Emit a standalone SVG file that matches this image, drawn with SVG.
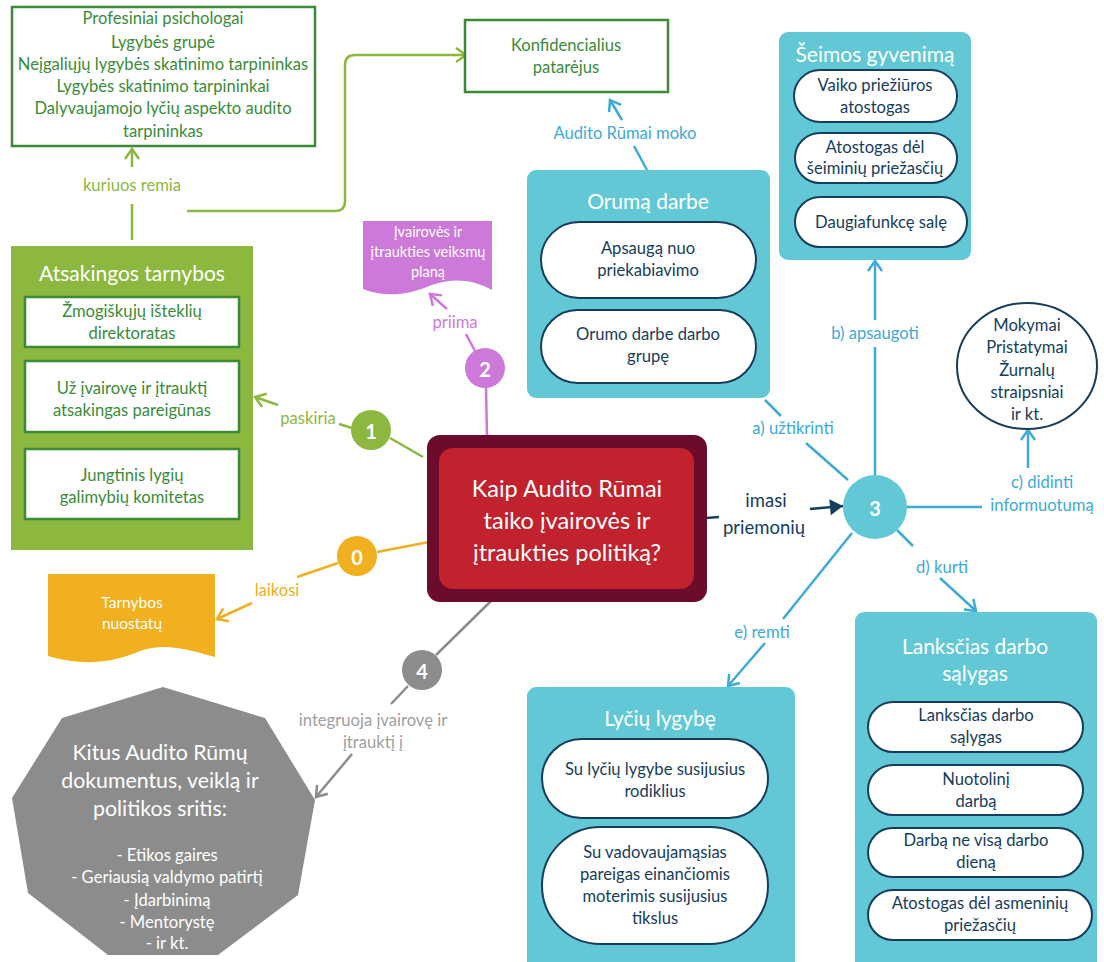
<svg xmlns="http://www.w3.org/2000/svg" width="1104" height="962" viewBox="0 0 1104 962">
<defs>
<style>
text{font-family:Lato,"Open Sans","Liberation Sans",sans-serif;text-anchor:middle;dominant-baseline:central}
.t15{font-size:16.6px}
.ttl{font-size:21px;fill:#fff}
.gtx{fill:#3a8c38;font-size:16.6px}
.ntx{fill:#173d5c;font-size:16.6px}
.wtx{fill:#fff}
.gbox{fill:#fff;stroke:#3a8a37;stroke-width:2.5}
.teal{fill:#63c8d5}
.pill{fill:#fff;stroke:#173d5c;stroke-width:2}
.c{fill:none;stroke-width:2.5}
.lg{stroke:#8db840}.or{stroke:#f0b020}.pk{stroke:#cc79d9}.gy{stroke:#8c8c8c}.bl{stroke:#3eaad9}.nv{stroke:#173d5c}
.num{font-size:20px;font-weight:bold;fill:#fff}
</style>
<marker id="mG" markerWidth="20" markerHeight="20" refX="0" refY="0" viewBox="-12 -10 14 20" orient="auto" markerUnits="userSpaceOnUse"><path d="M-10,-7 L0,0 L-10,7" fill="none" stroke="#8db840" stroke-width="2.5"/></marker>
<marker id="mO" markerWidth="20" markerHeight="20" refX="0" refY="0" viewBox="-12 -10 14 20" orient="auto" markerUnits="userSpaceOnUse"><path d="M-10,-7 L0,0 L-10,7" fill="none" stroke="#f0b020" stroke-width="2.5"/></marker>
<marker id="mP" markerWidth="20" markerHeight="20" refX="0" refY="0" viewBox="-12 -10 14 20" orient="auto" markerUnits="userSpaceOnUse"><path d="M-10,-7 L0,0 L-10,7" fill="none" stroke="#cc79d9" stroke-width="2.5"/></marker>
<marker id="mY" markerWidth="20" markerHeight="20" refX="0" refY="0" viewBox="-12 -10 14 20" orient="auto" markerUnits="userSpaceOnUse"><path d="M-10,-7 L0,0 L-10,7" fill="none" stroke="#8c8c8c" stroke-width="2.5"/></marker>
<marker id="mB" markerWidth="20" markerHeight="20" refX="0" refY="0" viewBox="-12 -10 14 20" orient="auto" markerUnits="userSpaceOnUse"><path d="M-10,-7 L0,0 L-10,7" fill="none" stroke="#3eaad9" stroke-width="2.5"/></marker>
<marker id="mN" markerWidth="20" markerHeight="20" refX="0" refY="0" viewBox="-14 -10 16 20" orient="auto" markerUnits="userSpaceOnUse"><path d="M-13,-8 L0,0 L-13,8 Z" fill="#173d5c"/></marker>
</defs>
<rect width="1104" height="962" fill="#fff"/>

<g id="connectors">
<line class="c lg" x1="132" y1="240" x2="132" y2="204"/>
<line class="c lg" x1="132" y1="167" x2="132" y2="149" marker-end="url(#mG)"/>
<path class="c lg" d="M187,211 H335 Q345,211 345,201 V65 Q345,55 355,55 H466" marker-end="url(#mG)"/>
<line class="c lg" x1="423" y1="457" x2="390" y2="438"/>
<line class="c lg" x1="352" y1="428" x2="339" y2="424"/>
<line class="c lg" x1="278" y1="405" x2="255" y2="397" marker-end="url(#mG)"/>
<line class="c or" x1="429" y1="542" x2="377" y2="552"/>
<line class="c or" x1="338" y1="563" x2="297" y2="577"/>
<line class="c or" x1="252" y1="603" x2="217" y2="619" marker-end="url(#mO)"/>
<line class="c pk" x1="487" y1="437" x2="486" y2="388"/>
<line class="c pk" x1="475" y1="351" x2="466" y2="334"/>
<line class="c pk" x1="447" y1="309" x2="430" y2="294" marker-end="url(#mP)"/>
<line class="c gy" x1="491" y1="601" x2="436" y2="655"/>
<line class="c gy" x1="408" y1="686" x2="391" y2="704"/>
<line class="c gy" x1="352" y1="754" x2="316" y2="797" marker-end="url(#mY)"/>
<line class="c bl" x1="647" y1="170" x2="634" y2="146"/>
<line class="c bl" x1="622" y1="120" x2="610" y2="100" marker-end="url(#mB)"/>
<line class="c bl" x1="848" y1="480" x2="806" y2="443"/>
<line class="c bl" x1="781" y1="416" x2="765" y2="400"/>
<line class="c bl" x1="875" y1="475" x2="875" y2="347"/>
<line class="c bl" x1="875" y1="320" x2="875" y2="261" marker-end="url(#mB)"/>
<line class="c bl" x1="907" y1="507" x2="982" y2="507"/>
<line class="c bl" x1="1028" y1="468" x2="1028" y2="430" marker-end="url(#mB)"/>
<line class="c bl" x1="897" y1="530" x2="913" y2="546"/>
<line class="c bl" x1="940" y1="578" x2="976" y2="611" marker-end="url(#mB)"/>
<line class="c bl" x1="852" y1="533" x2="783" y2="619"/>
<line class="c bl" x1="765" y1="643" x2="728" y2="686" marker-end="url(#mB)"/>
<line class="c nv" x1="706" y1="518" x2="719" y2="517"/>
<line class="c nv" x1="810" y1="509" x2="843" y2="506" marker-end="url(#mN)"/>
<text x="132" y="185" class="t15" fill="#8db840">kuriuos remia</text>
<text x="308" y="418" class="t15" fill="#8db840">paskiria</text>
<text x="277" y="590" class="t15" fill="#f0b020">laikosi</text>
<text x="455" y="322" class="t15" fill="#cc79d9">priima</text>
<text x="373" y="720" class="t15" fill="#a0a0a0">integruoja įvairovę ir</text>
<text x="373" y="742" class="t15" fill="#a0a0a0">įtrauktį į</text>
<text x="625" y="133" class="t15" fill="#3eaad9">Audito Rūmai moko</text>
<text x="793" y="428" class="t15" fill="#3eaad9">a) užtikrinti</text>
<text x="875" y="333" class="t15" fill="#3eaad9">b) apsaugoti</text>
<text x="1042" y="482" class="t15" fill="#3eaad9">c) didinti</text>
<text x="1042" y="505" class="t15" fill="#3eaad9">informuotumą</text>
<text x="942" y="567" class="t15" fill="#3eaad9">d) kurti</text>
<text x="762" y="632" class="t15" fill="#3eaad9">e) remti</text>
<text x="766" y="500" style="font-size:18.5px" fill="#173d5c">imasi</text>
<text x="764" y="527" style="font-size:18.5px" fill="#173d5c">priemonių</text>
</g>

<g id="supporters">
<rect x="12" y="7" width="303" height="139" class="gbox"/>
<text x="163" y="18" class="gtx">Profesiniai psichologai</text>
<text x="163" y="42" class="gtx">Lygybės grupė</text>
<text x="163" y="64" class="gtx">Neįgaliųjų lygybės skatinimo tarpininkas</text>
<text x="163" y="86" class="gtx">Lygybės skatinimo tarpininkai</text>
<text x="163" y="108" class="gtx">Dalyvaujamojo lyčių aspekto audito</text>
<text x="163" y="131" class="gtx">tarpininkas</text>
</g>

<g id="konfidencialius">
<rect x="465" y="20" width="203" height="72" class="gbox"/>
<text x="566" y="45" class="gtx">Konfidencialius</text>
<text x="566" y="67" class="gtx">patarėjus</text>
</g>

<g id="atsakingos">
<rect x="11" y="246" width="242" height="304" fill="#8db840"/>
<text x="132" y="272" class="ttl">Atsakingos tarnybos</text>
<rect x="25" y="297" width="214" height="50" class="gbox"/>
<text x="132" y="311" class="gtx">Žmogiškųjų išteklių</text>
<text x="132" y="333" class="gtx">direktoratas</text>
<rect x="25" y="361" width="214" height="71" class="gbox"/>
<text x="132" y="388" class="gtx">Už įvairovę ir įtrauktį</text>
<text x="132" y="410" class="gtx">atsakingas pareigūnas</text>
<rect x="25" y="449" width="214" height="70" class="gbox"/>
<text x="132" y="475" class="gtx">Jungtinis lygių</text>
<text x="132" y="497" class="gtx">galimybių komitetas</text>
</g>

<g id="veiksmu-planas">
<path d="M363,221 H492 V290 C472,279 452,278 432,285 C408,295 386,298 363,289 Z" fill="#cc79d9"/>
<text x="428" y="231" class="wtx" style="font-size:14.5px">Įvairovės ir</text>
<text x="428" y="251" class="wtx" style="font-size:14.5px">įtraukties veiksmų</text>
<text x="428" y="271" class="wtx" style="font-size:14.5px">planą</text>
</g>

<g id="nuostatu">
<path d="M48,574 H215 V657 C190,650 165,642 140,651 C115,662 85,667 48,656 Z" fill="#f0b020"/>
<text x="132" y="602" class="wtx" style="font-size:15.5px">Tarnybos</text>
<text x="132" y="623" class="wtx" style="font-size:15.5px">nuostatų</text>
</g>

<g id="center">
<rect x="427" y="435" width="280" height="167" rx="13" fill="#6d0b2a"/>
<rect x="439" y="448" width="255" height="141" rx="14" fill="#c1222d"/>
<text x="567" y="488" class="wtx" style="font-size:23.5px">Kaip Audito Rūmai</text>
<text x="567" y="520" class="wtx" style="font-size:23.5px">taiko įvairovės ir</text>
<text x="567" y="552" class="wtx" style="font-size:23.5px">įtraukties politiką?</text>
</g>

<g id="n1"><circle cx="371" cy="430" r="20" fill="#8db840"/><text x="371" y="431" class="num">1</text></g>
<g id="n0"><circle cx="357" cy="556" r="20" fill="#f0b020"/><text x="357" y="557" class="num">0</text></g>
<g id="n2"><circle cx="485" cy="368" r="20" fill="#cc79d9"/><text x="485" y="369" class="num">2</text></g>
<g id="n4"><circle cx="422" cy="670" r="20" fill="#8c8c8c"/><text x="422" y="671" class="num">4</text></g>
<g id="n3"><circle cx="875" cy="507" r="32" fill="#63c8d5"/><text x="875" y="508" class="num">3</text></g>

<g id="orumas">
<rect x="527" y="170" width="243" height="228" rx="9" class="teal"/>
<text x="648" y="200" class="ttl">Orumą darbe</text>
<rect x="541" y="222" width="215" height="76" rx="38" class="pill"/>
<text x="648" y="248" class="ntx">Apsaugą nuo</text>
<text x="648" y="270" class="ntx">priekabiavimo</text>
<rect x="541" y="310" width="215" height="73" rx="36.5" class="pill"/>
<text x="648" y="334" class="ntx">Orumo darbe darbo</text>
<text x="648" y="356" class="ntx">grupę</text>
</g>

<g id="seimos">
<rect x="779" y="32" width="192" height="228" rx="9" class="teal"/>
<text x="875" y="53" class="ttl">Šeimos gyvenimą</text>
<rect x="794" y="70" width="163" height="52" rx="26" class="pill"/>
<text x="875" y="85" class="ntx">Vaiko priežiūros</text>
<text x="875" y="107" class="ntx">atostogas</text>
<rect x="795" y="133" width="162" height="50" rx="25" class="pill"/>
<text x="875" y="147" class="ntx">Atostogas dėl</text>
<text x="875" y="168" class="ntx">šeiminių priežasčių</text>
<rect x="795" y="197" width="172" height="50" rx="25" class="pill"/>
<text x="881" y="222" class="ntx">Daugiafunkcę salę</text>
</g>

<g id="mokymai">
<ellipse cx="1027" cy="366" rx="70" ry="63" fill="#fff" stroke="#173d5c" stroke-width="2"/>
<text x="1027" y="325" class="ntx">Mokymai</text>
<text x="1027" y="347" class="ntx">Pristatymai</text>
<text x="1027" y="370" class="ntx">Žurnalų</text>
<text x="1027" y="392" class="ntx">straipsniai</text>
<text x="1027" y="414" class="ntx">ir kt.</text>
</g>

<g id="lyciu">
<rect x="527" y="687" width="268" height="285" rx="9" class="teal"/>
<text x="660" y="717" class="ttl">Lyčių lygybę</text>
<rect x="542" y="739" width="226" height="79" rx="39.5" class="pill"/>
<text x="655" y="769" class="ntx">Su lyčių lygybe susijusius</text>
<text x="655" y="791" class="ntx">rodiklius</text>
<rect x="542" y="827" width="226" height="117" rx="58.5" class="pill"/>
<text x="655" y="852" class="ntx">Su vadovaujamąsias</text>
<text x="655" y="874" class="ntx">pareigas einančiomis</text>
<text x="655" y="896" class="ntx">moterimis susijusius</text>
<text x="655" y="918" class="ntx">tikslus</text>
</g>

<g id="lanksti">
<rect x="855" y="612" width="242" height="360" rx="9" class="teal"/>
<text x="975" y="645" class="ttl">Lanksčias darbo</text>
<text x="975" y="672" class="ttl">sąlygas</text>
<rect x="868" y="702" width="215" height="50" rx="25" class="pill"/>
<text x="976" y="715" class="ntx">Lanksčias darbo</text>
<text x="976" y="737" class="ntx">sąlygas</text>
<rect x="868" y="765" width="215" height="50" rx="25" class="pill"/>
<text x="976" y="779" class="ntx">Nuotolinį</text>
<text x="976" y="801" class="ntx">darbą</text>
<rect x="868" y="828" width="215" height="49" rx="24.5" class="pill"/>
<text x="976" y="840" class="ntx">Darbą ne visą darbo</text>
<text x="976" y="862" class="ntx">dieną</text>
<rect x="868" y="890" width="224" height="50" rx="25" class="pill"/>
<text x="980" y="903" class="ntx">Atostogas dėl asmeninių</text>
<text x="980" y="925" class="ntx">priežasčių</text>
</g>

<g id="kitus">
<polygon points="163,687 265,718 315,800 298,895 218,955 108,955 28,893 12,798 62,718" fill="#8c8c8c"/>
<text x="160" y="752" class="wtx" style="font-size:21.3px">Kitus Audito Rūmų</text>
<text x="160" y="780" class="wtx" style="font-size:21.3px">dokumentus, veiklą ir</text>
<text x="160" y="808" class="wtx" style="font-size:21.3px">politikos sritis:</text>
<text x="167" y="855" class="wtx t15">- Etikos gaires</text>
<text x="167" y="877" class="wtx t15">- Geriausią valdymo patirtį</text>
<text x="167" y="900" class="wtx t15">- Įdarbinimą</text>
<text x="167" y="922" class="wtx t15">- Mentorystę</text>
<text x="167" y="943" class="wtx t15">- ir kt.</text>
</g>
</svg>
